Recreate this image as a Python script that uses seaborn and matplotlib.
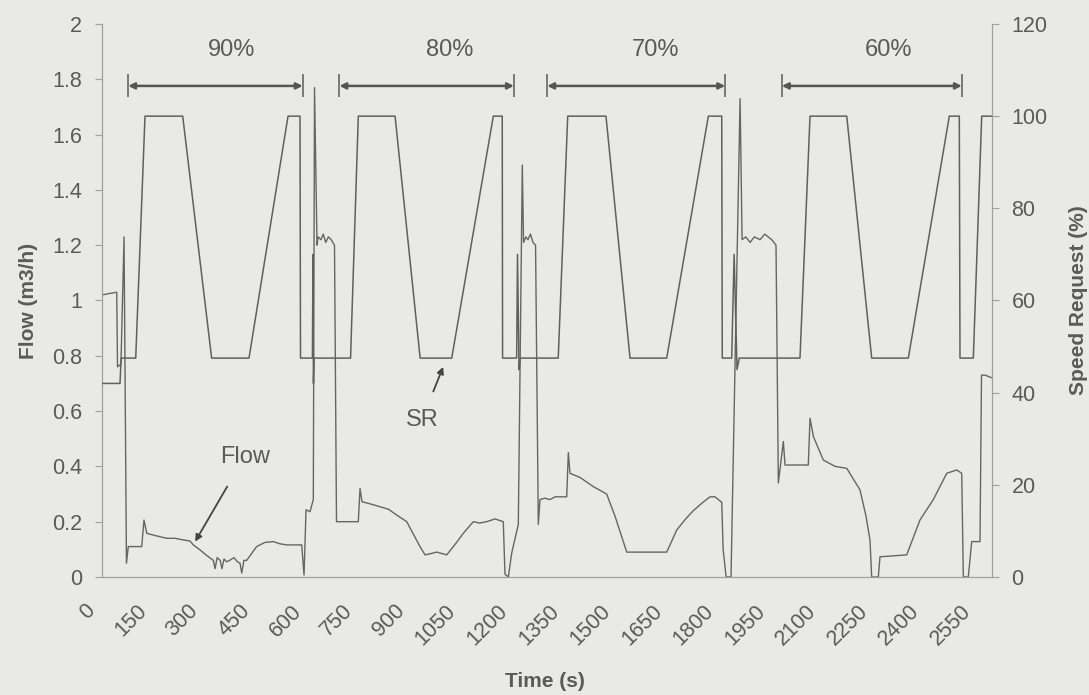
import matplotlib
matplotlib.use("Agg")
import matplotlib.pyplot as plt
import matplotlib.transforms as mtransforms
import seaborn as sns
import pandas as pd

# Flow measurement (m3/h) against time (s)
flow_time = [0, 43.7, 46, 56, 65, 72, 77.4, 116.4, 123.1, 131, 155, 189, 213, 237.6,
             257, 266.7, 286.2, 303.6, 325, 330, 336, 345, 350, 356, 364, 372, 385,
             395, 402.6, 407.6, 414, 422, 451, 475, 499.6, 519, 538.6, 582.2, 589,
             594.8, 606.4, 616, 619.5, 626.8, 630, 638, 645, 652, 660, 668, 677.7,
             683.5, 747, 752, 757.8, 780, 810, 835, 858.8, 888, 926.6, 941.2, 960,
             975.3, 1004.4, 1030, 1052.7, 1081.8, 1100, 1120.8, 1145, 1169, 1174,
             1183.7, 1193.6, 1212.8, 1224.4, 1228, 1235, 1241, 1248, 1255.6, 1263,
             1271, 1276, 1290, 1305, 1320, 1334, 1353.7, 1358.4, 1363.3, 1392.4,
             1431, 1470, 1494.3, 1528.4, 1581.6, 1644.8, 1674, 1700, 1722.3, 1750,
             1771, 1785.4, 1805, 1809, 1817.7, 1832, 1858.4, 1864.2, 1875, 1887.5,
             1900, 1916.7, 1930, 1950.5, 1963, 1969.8, 1984.3, 1989.2, 2057, 2062,
             2072, 2100.7, 2134.8, 2168.9, 2207.5, 2225, 2236.5, 2241.5, 2260.8,
             2265.7, 2343.5, 2382, 2421, 2460, 2489, 2503.6, 2508.3, 2522.8, 2532.7,
             2556.9, 2561.2, 2571.5, 2591.8]
flow_value = [1.02, 1.03, 0.76, 0.77, 1.23, 0.05, 0.11, 0.11, 0.206, 0.158, 0.15, 0.14,
              0.14, 0.134, 0.13, 0.116, 0.098, 0.08, 0.06, 0.03, 0.07, 0.06, 0.03, 0.065,
              0.055, 0.06, 0.07, 0.055, 0.05, 0.014, 0.06, 0.06, 0.11, 0.125, 0.128,
              0.12, 0.116, 0.116, 0.007, 0.243, 0.236, 0.28, 1.77, 1.2, 1.23, 1.22,
              1.24, 1.21, 1.23, 1.22, 1.2, 0.2, 0.2, 0.32, 0.272, 0.265, 0.254, 0.245,
              0.224, 0.2, 0.11, 0.08, 0.085, 0.09, 0.08, 0.12, 0.158, 0.2, 0.195, 0.2,
              0.21, 0.2, 0.01, 0.0, 0.087, 0.19, 1.49, 1.21, 1.23, 1.22, 1.24, 1.21,
              1.2, 0.19, 0.28, 0.285, 0.28, 0.29, 0.29, 0.29, 0.45, 0.375, 0.36, 0.327,
              0.30, 0.22, 0.09, 0.09, 0.09, 0.17, 0.21, 0.24, 0.27, 0.29, 0.29, 0.27,
              0.1, 0.0, 0.0, 1.73, 1.22, 1.23, 1.21, 1.23, 1.22, 1.24, 1.22, 1.2, 0.34,
              0.49, 0.405, 0.405, 0.574, 0.507, 0.423, 0.40, 0.393, 0.315, 0.22, 0.134,
              0.0, 0.0, 0.073, 0.08, 0.206, 0.28, 0.375, 0.387, 0.375, 0.0, 0.0, 0.128,
              0.128, 0.73, 0.73, 0.72]

# Speed request (%) against time (s)
sr_time = [0, 53.3, 56.5, 99, 126, 235.8, 320, 428.8, 542.4, 577.3, 578.7, 613.4,
           615, 616.4, 618, 724.4, 747, 854, 927, 1019, 1140, 1166, 1167, 1208,
           1210.4, 1215, 1218, 1329, 1356.6, 1468, 1538, 1644.8, 1766, 1805, 1806.5,
           1834, 1841, 1849.5, 1856, 2032.8, 2062, 2168.9, 2241.5, 2348.2, 2467.5,
           2496.6, 2498.6, 2537.4, 2561.8, 2591.8]
sr_value = [42, 42, 47.5, 47.5, 100, 100, 47.5, 47.5, 100, 100, 47.5, 47.5, 70, 42,
            47.5, 47.5, 100, 100, 47.5, 47.5, 100, 100, 47.5, 47.5, 70, 45, 47.5, 47.5,
            100, 100, 47.5, 47.5, 100, 100, 47.5, 47.5, 70, 45, 47.5, 47.5, 100, 100,
            47.5, 47.5, 100, 100, 47.5, 47.5, 100, 100]

# Speed-request level blocks
block_labels = ["90%", "80%", "70%", "60%"]
block_start = [77, 692, 1297, 1980]
block_end = [585, 1200, 1815, 2504]
block_label_x = [378, 1012, 1611, 2290]

x_ticks = list(range(0, 2551, 150))
flow_ticks = [0, 0.2, 0.4, 0.6, 0.8, 1, 1.2, 1.4, 1.6, 1.8, 2]
flow_tick_labels = ["0", "0.2", "0.4", "0.6", "0.8", "1", "1.2", "1.4", "1.6", "1.8", "2"]
sr_ticks = [0, 20, 40, 60, 80, 100, 120]

bg = "#e9e9e7"
ink = "#5a5a5a"
axis_grey = "#a0a0a0"

sns.set_theme(style="white")
plt.rcParams["font.family"] = ["Liberation Sans", "DejaVu Sans"]

fig = plt.figure(figsize=(10.89, 6.95), dpi=100, facecolor=bg)
ax = fig.add_axes([0.0934, 0.1698, 0.8176, 0.7957])
ax.set_facecolor("none")
ax2 = ax.twinx()
ax2.set_facecolor("none")

flow_df = pd.DataFrame({"t": flow_time, "flow": flow_value})
sr_df = pd.DataFrame({"t": sr_time, "sr": sr_value})

sns.lineplot(data=flow_df, x="t", y="flow", ax=ax, color="#656565", lw=1.0,
             sort=False, estimator=None)
sns.lineplot(data=sr_df, x="t", y="sr", ax=ax2, color="#606060", lw=1.1,
             sort=False, estimator=None)

ax.set_xlim(0, 2592)
ax.set_ylim(0, 2)
ax2.set_ylim(0, 120)

tick_fs = 15.5
ax.set_xticks(x_ticks)
ax.set_xticklabels([str(v) for v in x_ticks], rotation=45, ha="right",
                   rotation_mode="anchor", fontsize=tick_fs, color=ink)
ax.set_yticks(flow_ticks)
ax.set_yticklabels(flow_tick_labels, fontsize=tick_fs, color=ink)
ax2.set_yticks(sr_ticks)
ax2.set_yticklabels([str(v) for v in sr_ticks], fontsize=tick_fs, color=ink)

for a in (ax, ax2):
    a.tick_params(axis="both", direction="out", length=5, width=0.8,
                  color=axis_grey, pad=9)
    for side in ("left", "right", "bottom"):
        a.spines[side].set_color(axis_grey)
        a.spines[side].set_linewidth(0.9)
    a.spines["top"].set_visible(False)
ax.spines["right"].set_visible(False)
ax2.spines["left"].set_visible(False)
ax2.spines["bottom"].set_visible(False)
ax.tick_params(axis="x", pad=12)

# nudge the slanted time labels so their ends sit just left of each tick
shift = mtransforms.ScaledTranslation(-0.17, 0, fig.dpi_scale_trans)
for lab in ax.get_xticklabels():
    lab.set_transform(lab.get_transform() + shift)

label_fs = 15
ax.set_xlabel("Time (s)", fontsize=label_fs, fontweight="bold", color=ink)
ax.xaxis.set_label_coords(0.498, -0.172)
ax.set_ylabel("Flow (m3/h)", fontsize=label_fs, fontweight="bold", color=ink)
ax.yaxis.set_label_coords(-0.072, 0.5)
ax2.set_ylabel("Speed Request (%)", fontsize=label_fs, fontweight="bold", color=ink)
ax2.yaxis.set_label_coords(1.086, 0.5)

# Level brackets across the top
for s, e, lab, lx in zip(block_start, block_end, block_labels, block_label_x):
    ax.annotate("", xy=(e, 1.776), xytext=(s, 1.776),
                arrowprops=dict(arrowstyle="<|-|>", color="#555555", lw=1.8,
                                mutation_scale=9, shrinkA=0, shrinkB=0))
    ax.vlines([s, e], 1.735, 1.82, color="#666666", lw=1.2)
    ax.text(lx, 1.905, lab, ha="center", va="center", fontsize=17, color=ink)

# Series callouts
ax.annotate("Flow", xy=(272, 0.128), xytext=(416, 0.435), fontsize=17, color=ink,
            ha="center", va="center",
            arrowprops=dict(arrowstyle="-|>", color="#444444", lw=1.3,
                            mutation_scale=10, shrinkA=13, shrinkB=0))
ax.annotate("SR", xy=(994, 0.76), xytext=(932, 0.568), fontsize=17, color=ink,
            ha="center", va="center",
            arrowprops=dict(arrowstyle="-|>", color="#444444", lw=1.3,
                            mutation_scale=10, shrinkA=11, shrinkB=0))

fig.savefig("out.png", dpi=100, facecolor=bg)
